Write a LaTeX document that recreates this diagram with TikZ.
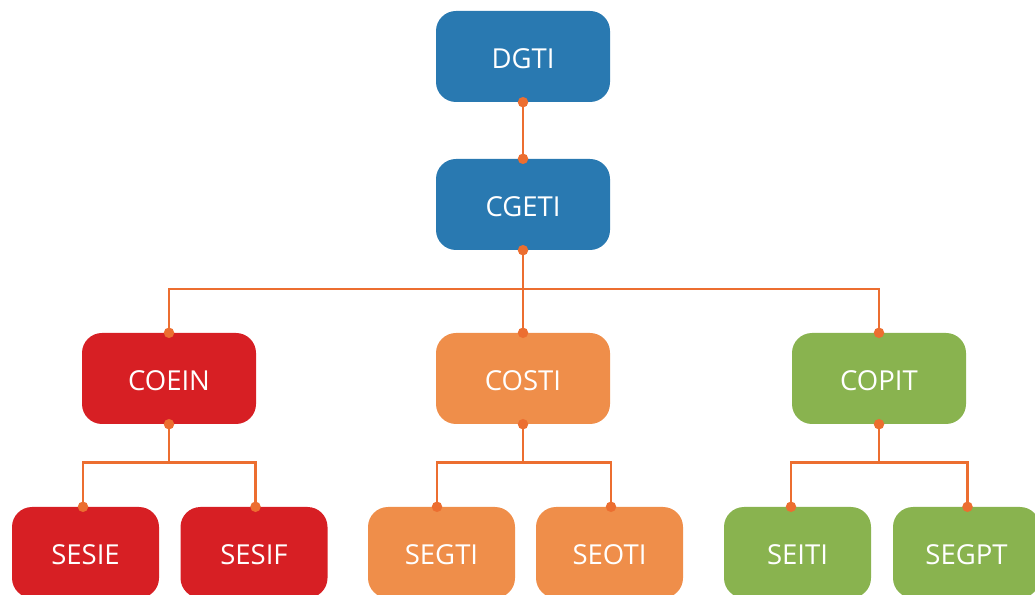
\documentclass[tikz,border=0pt]{standalone}
\usepackage{fontspec}
\setmainfont{Open Sans}
\definecolor{cblue}{RGB}{41,121,177}
\definecolor{cred}{RGB}{215,31,36}
\definecolor{corbox}{RGB}{239,142,74}
\definecolor{cgreen}{RGB}{137,179,79}
\definecolor{cline}{RGB}{236,110,48}
\begin{document}
\begin{tikzpicture}[x=1pt,y=1pt,
  box/.style={rounded corners=20pt, minimum width=174pt, minimum height=91pt, inner sep=0pt,
              text height=25pt, text=white, font=\fontsize{27.5}{30}\selectfont},
  smallbox/.style={box, minimum width=147pt},
  link/.style={draw=cline, line width=2.2pt},
  dot/.style={circle, fill=cline, inner sep=0pt, minimum size=10.5pt}]
\useasboundingbox (0,0) rectangle (1035,594);
\clip (0,0) rectangle (1035,594);
% level 0-1
\node[box, fill=cblue] (dgti)  at (523, 594-56.5)  {DGTI};
\node[box, fill=cblue] (cgeti) at (523, 594-204.5) {CGETI};
% level 2
\node[box, fill=cred]   (coein) at (169, 594-378.5) {COEIN};
\node[box, fill=corbox] (costi) at (523, 594-378.5) {COSTI};
\node[box, fill=cgreen] (copit) at (879, 594-378.5) {COPIT};
% level 3
\node[smallbox, fill=cred]   (sesie) at (85.5,  594-552.5) {SESIE};
\node[smallbox, fill=cred]   (sesif) at (254,   594-552.5) {SESIF};
\node[smallbox, fill=corbox] (segti) at (441.5, 594-552.5) {SEGTI};
\node[smallbox, fill=corbox] (seoti) at (609.5, 594-552.5) {SEOTI};
\node[smallbox, fill=cgreen] (seiti) at (797.5, 594-552.5) {SEITI};
\node[smallbox, fill=cgreen] (segpt) at (966.5, 594-552.5) {SEGPT};
% connector end points on children
\coordinate (sesieT) at ([xshift=-2.5pt]sesie.north);
\coordinate (sesifT) at ([xshift=1.5pt]sesif.north);
\coordinate (segtiT) at ([xshift=-4.5pt]segti.north);
\coordinate (seotiT) at ([xshift=1.5pt]seoti.north);
\coordinate (seitiT) at ([xshift=-6.5pt]seiti.north);
\coordinate (segptT) at ([xshift=1pt]segpt.north);
% buses
\coordinate (bus1) at (523, 594-289);
\coordinate (busA) at (169, 594-462.5);
\coordinate (busB) at (523, 594-462.5);
\coordinate (busC) at (879, 594-462.5);
% connectors
\draw[link] (dgti.south) -- (cgeti.north);
\draw[link] (cgeti.south) -- (costi.north);
\draw[link] (coein.north) |- (bus1) -| (copit.north);
\draw[link] (coein.south) -- (busA);
\draw[link] (sesieT) |- (busA) -| (sesifT);
\draw[link] (costi.south) -- (busB);
\draw[link] (segtiT) |- (busB) -| (seotiT);
\draw[link] (copit.south) -- (busC);
\draw[link] (seitiT) |- (busC) -| (segptT);
% dots
\foreach \p in {dgti.south, cgeti.north, cgeti.south, coein.north, costi.north, copit.north,
                coein.south, costi.south, copit.south,
                sesieT, sesifT, segtiT, seotiT, seitiT, segptT}
  \node[dot] at (\p) {};
\end{tikzpicture}
\end{document}
